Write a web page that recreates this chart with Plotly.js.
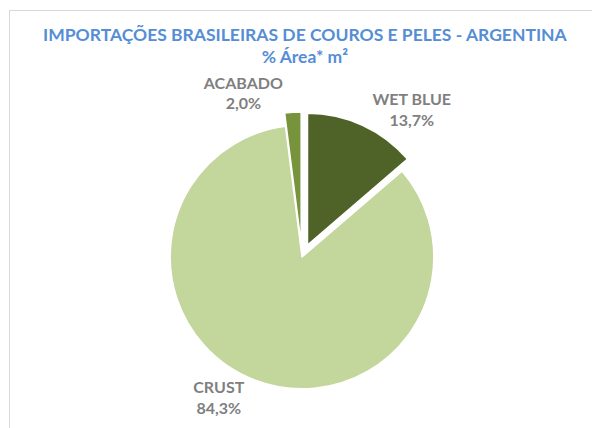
<!DOCTYPE html>
<html>
<head>
<meta charset="utf-8">
<script src="https://cdn.plot.ly/plotly-3.0.1.min.js"></script>
<style>
  html, body { margin: 0; padding: 0; background: #ffffff; }
  #wrap { position: relative; width: 592px; height: 428px; }
  #chart { width: 592px; height: 428px; }
  #frame { position: absolute; left: 9px; top: 10px; right: -2px; bottom: -2px;
           border-left: 1px solid #d9d9d9; border-top: 1px solid #d9d9d9; pointer-events: none; }
</style>
</head>
<body>
<div id="wrap">
  <div id="chart"></div>
  <div id="frame"></div>
</div>
<script>
// Data (order follows the reference: first slice starts at 12 o'clock, clockwise)
var categories = ["WET BLUE", "CRUST", "ACABADO"];
var shares = [13.7, 84.3, 2.0];
var sliceColors = ["#4f6228", "#c3d69b", "#77933c"];
var explode = [0.1, 0, 0.1];

var trace = {
  type: "pie",
  labels: categories,
  values: shares,
  sort: false,
  direction: "clockwise",
  rotation: 0,
  pull: explode,
  marker: { colors: sliceColors, line: { color: "#ffffff", width: 1.5 } },
  textposition: "outside",
  texttemplate: "<b>%{label}</b><br><b>%{percent:.1%}</b>",
  textfont: { family: "Lato, 'Open Sans', sans-serif", size: 16, color: "#7f7f7f" },
  outsidetextfont: { family: "Lato, 'Open Sans', sans-serif", size: 16, color: "#7f7f7f" },
  hoverinfo: "label+percent",
  showlegend: false,
  domain: { x: [0, 1], y: [0, 1] }
};

var layout = {
  width: 592,
  height: 428,
  separators: ",.",
  paper_bgcolor: "#ffffff",
  plot_bgcolor: "#ffffff",
  margin: { t: 112, b: 26, l: 48, r: 36 },
  title: {
    text: "<b>IMPORTAÇÕES BRASILEIRAS DE COUROS E PELES - ARGENTINA</b><br><b>% Área* m²</b>",
    font: { family: "Lato, 'Open Sans', sans-serif", size: 17.5, color: "#558ed5" },
    x: 0.515,
    xanchor: "center",
    y: 0.905,
    yanchor: "top"
  },
  showlegend: false
};

Plotly.newPlot("chart", [trace], layout, { displayModeBar: false, staticPlot: true });
</script>
</body>
</html>
